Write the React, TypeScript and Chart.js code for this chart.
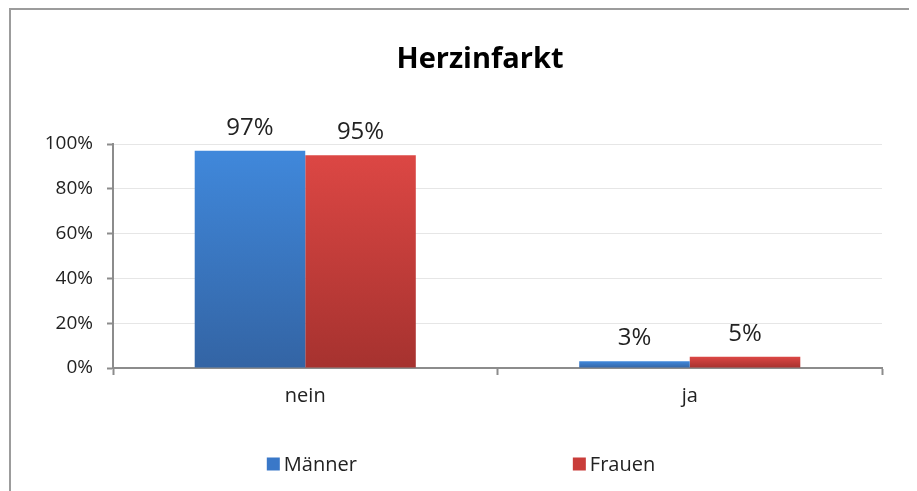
import React, { useEffect, useRef } from "react";
import { Chart, registerables } from "chart.js";

Chart.register(...registerables);

const categories = ["nein", "ja"];
const maenner = [97, 3];
const frauen = [95, 5];
const seriesNames = ["Männer", "Frauen"];
const titleText = "Herzinfarkt";

const FONT = "'Open Sans', 'Noto Sans', sans-serif";

const blueTop = "#4088DB";
const blueBottom = "#3364A4";
const redTop = "#DC4744";
const redBottom = "#A6322F";
const legendColors = ["#3A78C8", "#C93D3A"];

function barGradient(top: string, bottom: string) {
  return (ctx: any) => {
    const chart = ctx.chart;
    const y = chart.scales && chart.scales.y;
    if (!chart.chartArea || !y || ctx.raw == null) return top;
    const py = y.getPixelForValue(ctx.raw);
    const pb = y.getPixelForValue(0);
    if (!isFinite(py) || !isFinite(pb) || pb - py < 1) return top;
    const g = chart.ctx.createLinearGradient(0, py, 0, pb);
    g.addColorStop(0, top);
    g.addColorStop(1, bottom);
    return g;
  };
}

const titlePlugin = {
  id: "customTitle",
  afterDraw(chart: any) {
    const ctx = chart.ctx;
    ctx.save();
    ctx.font = `bold 29px ${FONT}`;
    ctx.fillStyle = "#000";
    ctx.textAlign = "center";
    ctx.textBaseline = "middle";
    ctx.fillText(titleText, 469, 50);
    ctx.restore();
  },
};

const dataLabelPlugin = {
  id: "dataLabels",
  afterDatasetsDraw(chart: any) {
    const ctx = chart.ctx;
    ctx.save();
    ctx.font = `24px ${FONT}`;
    ctx.fillStyle = "#222";
    ctx.textAlign = "center";
    ctx.textBaseline = "bottom";
    chart.data.datasets.forEach((ds: any, i: number) => {
      const meta = chart.getDatasetMeta(i);
      meta.data.forEach((el: any, j: number) => {
        ctx.fillText(Math.round(ds.data[j]) + "%", el.x, el.y - 11);
      });
    });
    ctx.restore();
  },
};

const legendPlugin = {
  id: "customLegend",
  afterDraw(chart: any) {
    const ctx = chart.ctx;
    ctx.save();
    ctx.font = `20px ${FONT}`;
    ctx.textBaseline = "middle";
    ctx.textAlign = "left";
    const box = 13;
    const gap = 4;
    const itemGap = 216;
    const items = chart.data.datasets.map((ds: any, i: number) => ({
      text: ds.label,
      color: legendColors[i],
      w: box + gap + ctx.measureText(ds.label).width,
    }));
    const total = items.reduce((s: number, it: any) => s + it.w, 0) + itemGap * (items.length - 1);
    let x = 450 - total / 2;
    const y = 454;
    items.forEach((it: any) => {
      ctx.fillStyle = it.color;
      ctx.fillRect(x, y - box / 2, box, box);
      ctx.fillStyle = "#222";
      ctx.fillText(it.text, x + box + gap, y + 1);
      x += it.w + itemGap;
    });
    ctx.restore();
  },
};

export default function App() {
  const ref = useRef<HTMLCanvasElement | null>(null);

  useEffect(() => {
    document.documentElement.style.overflow = "hidden";
    document.body.style.overflow = "hidden";
    const canvas = ref.current;
    if (!canvas) return;
    const chart = new Chart(canvas, {
      type: "bar",
      data: {
        labels: categories,
        datasets: [
          {
            label: seriesNames[0],
            data: maenner,
            backgroundColor: barGradient(blueTop, blueBottom) as any,
            barPercentage: 1,
            categoryPercentage: 0.575,
          },
          {
            label: seriesNames[1],
            data: frauen,
            backgroundColor: barGradient(redTop, redBottom) as any,
            barPercentage: 1,
            categoryPercentage: 0.575,
          },
        ],
      },
      options: {
        responsive: false,
        animation: false,
        layout: { padding: { left: 0, right: 34, top: 134, bottom: 82 } },
        plugins: {
          legend: { display: false },
          tooltip: { enabled: false },
          title: { display: false },
        },
        scales: {
          x: {
            grid: {
              display: true,
              drawOnChartArea: false,
              offset: true,
              tickLength: 7,
              tickColor: "#8c8c8c",
              tickWidth: 2,
            },
            border: { color: "#8c8c8c", width: 2 },
            ticks: { font: { size: 20, family: FONT }, color: "#222", padding: 9 },
            afterFit: (s: any) => {
              s.height = 50;
            },
          },
          y: {
            min: 0,
            max: 100,
            ticks: {
              stepSize: 20,
              callback: (v: any) => v + "%",
              font: { size: 19, family: FONT },
              color: "#222",
              padding: 14,
            },
            grid: {
              color: "#e6e6e6",
              tickLength: 6,
              tickColor: "#8c8c8c",
              tickWidth: 2,
            },
            border: { color: "#8c8c8c", width: 2 },
            afterFit: (s: any) => {
              s.width = 102;
            },
          },
        },
      } as any,
      plugins: [dataLabelPlugin, legendPlugin, titlePlugin],
    });
    return () => chart.destroy();
  }, []);

  return (
    <div
      style={{
        marginLeft: 1,
        width: 905,
        height: 490,
        border: "2px solid #9c9c9c",
        background: "#fff",
      }}
    >
      <canvas ref={ref} width={905} height={490} style={{ display: "block" }} />
    </div>
  );
}
